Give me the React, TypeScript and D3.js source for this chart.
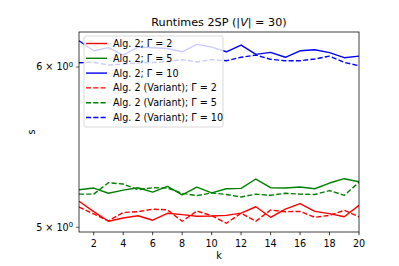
import React from "react";
import * as d3 from "d3";

const ks = d3.range(1, 21);
const alg2G2 = [5.15, 5.09, 5.034, 5.053, 5.066, 5.04, 5.08, 5.072, 5.063, 5.064, 5.068, 5.081, 5.118, 5.057, 5.104, 5.136, 5.091, 5.078, 5.06, 5.126];
const alg2G5 = [5.218, 5.228, 5.197, 5.216, 5.23, 5.204, 5.238, 5.187, 5.234, 5.199, 5.224, 5.226, 5.282, 5.23, 5.228, 5.234, 5.224, 5.258, 5.284, 5.266];
const alg2G10 = [6.182, 6.112, 6.134, 6.082, 6.138, 6.133, 6.128, 6.105, 6.157, 6.138, 6.105, 6.152, 6.087, 6.101, 6.067, 6.112, 6.119, 6.099, 6.064, 6.075];
const varG2 = [5.116, 5.076, 5.036, 5.085, 5.089, 5.104, 5.1, 5.034, 5.093, 5.066, 5.023, 5.081, 5.034, 5.099, 5.089, 5.091, 5.057, 5.068, 5.097, 5.06];
const varG5 = [5.192, 5.192, 5.26, 5.252, 5.218, 5.23, 5.228, 5.197, 5.183, 5.199, 5.19, 5.175, 5.192, 5.185, 5.197, 5.192, 5.19, 5.213, 5.185, 5.262];
const varG10 = [6.029, 6.032, 6.014, 6.02, 6.027, 6.031, 6.038, 6.051, 6.034, 6.051, 6.043, 6.067, 6.082, 6.053, 6.043, 6.043, 6.055, 6.075, 6.032, 6.009];

const xTicks = [2, 4, 6, 8, 10, 12, 14, 16, 18, 20];
const yTicks = [5, 6];

const series = [
  { label: "Alg. 2; Γ = 2", values: alg2G2, color: "#ff0000", dashed: false },
  { label: "Alg. 2; Γ = 5", values: alg2G5, color: "#008000", dashed: false },
  { label: "Alg. 2; Γ = 10", values: alg2G10, color: "#0000ff", dashed: false },
  { label: "Alg. 2 (Variant); Γ = 2", values: varG2, color: "#ff0000", dashed: true },
  { label: "Alg. 2 (Variant); Γ = 5", values: varG5, color: "#008000", dashed: true },
  { label: "Alg. 2 (Variant); Γ = 10", values: varG10, color: "#0000ff", dashed: true },
];

const W = 399, H = 266;
const L = 79, R = 359, T = 32, B = 232;
const font = "DejaVu Sans, sans-serif";

export default function App() {
  const x = d3.scaleLinear().domain([1, 20]).range([L, R]);
  const y = d3.scaleLog().domain([4.973, 6.244]).range([B, T]);
  const line = d3.line<number>().x((_, i) => x(ks[i])).y((d) => y(d));
  const dash = "5.1,2.2";
  const fs = 9.6;

  const legX = 84, legY = 36, legW = 139, legH = 91, rowH = 14.8;

  return (
    <svg width={W} height={H} style={{ position: "absolute", left: 0, top: 0 }} fontFamily={font}>
      <rect x={0} y={0} width={W} height={H} fill="#fff" />
      <text x={(L + R) / 2} y={26} textAnchor="middle" fontSize={11.2}>
        Runtimes 2SP (|<tspan fontStyle="italic">V</tspan>| = 30)
      </text>
      <defs>
        <clipPath id="clip">
          <rect x={L} y={T} width={R - L} height={B - T} />
        </clipPath>
      </defs>
      <g clipPath="url(#clip)">
        {series.map((s, i) => (
          <path key={i} d={line(s.values) || ""} fill="none" stroke={s.color} strokeWidth={1.4}
            strokeDasharray={s.dashed ? dash : undefined} strokeLinejoin="round" />
        ))}
      </g>
      <rect x={L} y={T} width={R - L} height={B - T} fill="none" stroke="#000" strokeWidth={0.75} />
      {xTicks.map((t) => (
        <g key={t}>
          <line x1={x(t)} x2={x(t)} y1={B} y2={B + 3.2} stroke="#000" strokeWidth={0.75} />
          <text x={x(t)} y={246.5} textAnchor="middle" fontSize={fs}>{t}</text>
        </g>
      ))}
      <text x={(L + R) / 2} y={259} textAnchor="middle" fontSize={fs}>k</text>
      {yTicks.map((t) => (
        <g key={t}>
          <line x1={L - 3.2} x2={L} y1={y(t)} y2={y(t)} stroke="#000" strokeWidth={0.6} />
          <text x={73} y={y(t) + 3.4} textAnchor="end" fontSize={fs}>
            {t} × 10<tspan fontSize={6.8} dy={-3.6}>0</tspan>
          </text>
        </g>
      ))}
      <text transform={`translate(35,${(T + B) / 2}) rotate(-90)`} textAnchor="middle" fontSize={fs}>s</text>
      <rect x={legX} y={legY} width={legW} height={legH} rx={2} fill="#fff" fillOpacity={0.8} stroke="#cccccc" strokeWidth={0.75} />
      {series.map((s, i) => {
        const ry = 43.5 + i * rowH;
        return (
          <g key={i}>
            <line x1={86} x2={107} y1={ry} y2={ry} stroke={s.color} strokeWidth={1.4}
              strokeDasharray={s.dashed ? dash : undefined} />
            <text x={113} y={ry + 3.4} fontSize={fs}>{s.label}</text>
          </g>
        );
      })}
    </svg>
  );
}
